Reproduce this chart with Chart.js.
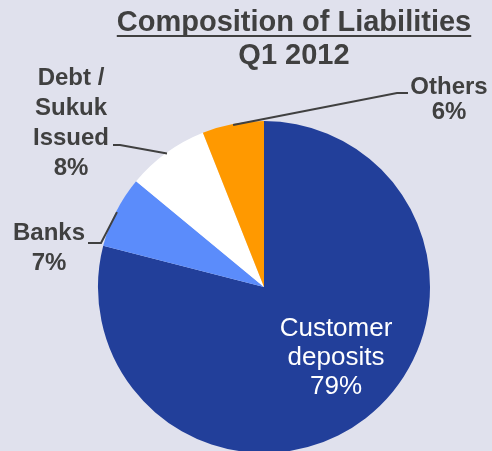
<!DOCTYPE html>
<html>
<head>
<meta charset="utf-8">
<script src="https://cdn.jsdelivr.net/npm/chart.js@4/dist/chart.umd.min.js"></script>
<style>
  html, body { margin: 0; padding: 0; background: #e0e1ed; overflow: hidden; }
  #wrap { position: relative; width: 492px; height: 460px; }
</style>
</head>
<body>
<div id="wrap"><canvas id="pie"></canvas></div>
<script>
// ---- data ---------------------------------------------------------------
const categories = ['Customer deposits', 'Banks', 'Debt / Sukuk Issued', 'Others'];
const shares = [79, 7, 8, 6];
const sliceColors = ['#223f9a', '#5b8cfb', '#ffffff', '#ff9900'];

const titleLines = ['Composition of Liabilities', 'Q1 2012'];

// label text lines per slice (last line is the percentage)
const labelLines = [
  ['Customer', 'deposits'],
  ['Banks'],
  ['Debt /', 'Sukuk', 'Issued'],
  ['Others'],
];

// ---- layout for the labels (pixels, relative to the pie centre) ----------
const labelLayout = [
  { inside: true, dx: 72, dy: 42, lineH: 29 },                             // Customer deposits
  { dx: -215, dy: -54, lineH: 30, elbow: [-163, -44], tail: [-176, -44] }, // Banks
  { dx: -193, dy: -209, lineH: 30, elbow: [-144, -142], tail: [-151, -142] }, // Debt
  { dx: 185, dy: -200, lineH: 25, elbow: [133, -194], tail: [144, -194] },  // Others
];

const INK = '#404040';

const labelPlugin = {
  id: 'sliceLabels',
  afterDraw(chart) {
    const ctx = chart.ctx;
    const arcs = chart.getDatasetMeta(0).data;
    ctx.save();
    ctx.textAlign = 'center';
    ctx.textBaseline = 'middle';
    arcs.forEach((arc, i) => {
      const L = labelLayout[i];
      const cx = arc.x, cy = arc.y;
      const lines = labelLines[i].concat([shares[i] + '%']);
      if (L.inside) {
        ctx.fillStyle = '#ffffff';
        ctx.font = '26px "Liberation Sans", Arial, sans-serif';
      } else {
        // leader line from the slice edge (mid angle) to the label
        const mid = (arc.startAngle + arc.endAngle) / 2;
        const r = arc.outerRadius - 1;
        ctx.strokeStyle = INK;
        ctx.lineWidth = 2;
        ctx.beginPath();
        ctx.moveTo(cx + Math.cos(mid) * r, cy + Math.sin(mid) * r);
        ctx.lineTo(cx + L.elbow[0], cy + L.elbow[1]);
        ctx.lineTo(cx + L.tail[0], cy + L.tail[1]);
        ctx.stroke();
        ctx.fillStyle = INK;
        ctx.font = 'bold 24px "Liberation Sans", Arial, sans-serif';
      }
      lines.forEach((t, k) => {
        ctx.fillText(t, cx + L.dx, cy + L.dy + k * L.lineH);
      });
    });

    // title, underlined first line
    ctx.fillStyle = INK;
    ctx.font = 'bold 29px "Liberation Sans", Arial, sans-serif';
    const tx = 294;
    ctx.fillText(titleLines[0], tx, 23);
    const w = ctx.measureText(titleLines[0]).width;
    ctx.fillRect(tx - w / 2, 35, w, 2);
    ctx.fillText(titleLines[1], tx, 56);
    ctx.restore();
  }
};

new Chart(document.getElementById('pie'), {
  type: 'pie',
  data: {
    labels: categories,
    datasets: [{
      data: shares,
      backgroundColor: sliceColors,
      borderWidth: 0,
      hoverOffset: 0,
    }],
  },
  options: {
    responsive: true,
    maintainAspectRatio: false,
    animation: false,
    layout: { padding: { left: 98, right: 62, top: 121, bottom: 7 } },
    plugins: {
      legend: { display: false },
      tooltip: { enabled: false },
      title: { display: false },
    },
  },
  plugins: [labelPlugin],
});
</script>
</body>
</html>
